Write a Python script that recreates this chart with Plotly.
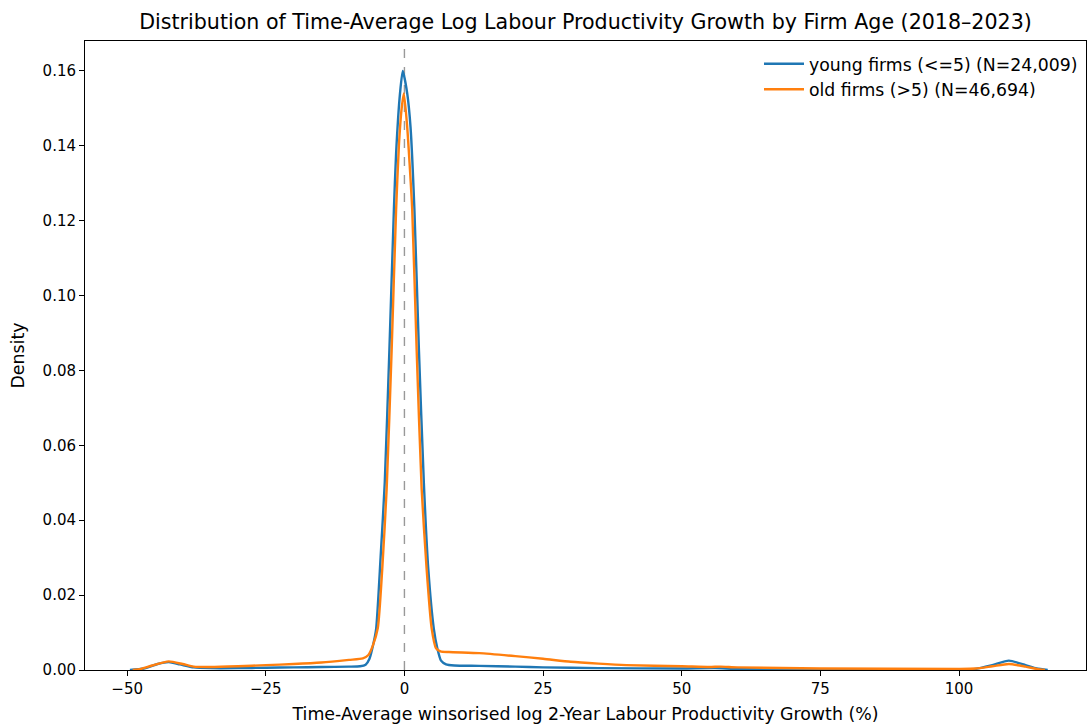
import plotly.graph_objects as go

# Kernel density estimates
young_x = [-49.5, -47, -44.5, -42.5, -40.5, -38, -35, -30, -25, -20, -15, -10, -8, -7, -6.3, -5.6,
           -5.1, -4.3, -3.55, -2.7, -1.9, -1.5, -0.8, -0.3, 0.5, 1.1, 1.8, 2.6, 3.5, 4.3, 5.3, 5.9,
           6.6, 7.5, 9, 13.5, 20, 25, 35, 50, 56, 60, 75, 100, 103, 106, 109, 112, 114, 116]
young_y = [0.0000, 0.0004, 0.0016, 0.0021, 0.0015, 0.0007, 0.0005, 0.0005, 0.0006, 0.0007, 0.0008,
           0.0009, 0.0010, 0.0014, 0.0030, 0.0070, 0.0110, 0.0300, 0.0500, 0.0860, 0.1230, 0.1380,
           0.1540, 0.1600, 0.1540, 0.1450, 0.1230, 0.0860, 0.0500, 0.0270, 0.0110, 0.0060, 0.0025,
           0.0015, 0.0012, 0.0011, 0.0009, 0.0007, 0.0005, 0.0004, 0.0005, 0.0003, 0.0002, 0.0002,
           0.0003, 0.0013, 0.0025, 0.0013, 0.0004, 0.0000]

old_x = [-49, -47.5, -45.5, -42.5, -40, -38, -35, -30, -25, -20, -15, -10, -7.5, -6.5, -5.7, -4.8,
         -4.0, -3.2, -2.3, -1.5, -1.0, -0.5, -0.1, 0.5, 0.9, 1.4, 2.2, 3.1, 4.0, 4.9, 5.7, 6.5, 8,
         13.5, 20, 25, 30, 35, 40, 50, 55, 57, 60, 75, 100, 103, 106, 109, 112, 114, 115.5]
old_y = [0.0000, 0.0003, 0.0012, 0.0023, 0.0016, 0.0009, 0.0008, 0.0010, 0.0013, 0.0016, 0.0020,
         0.0027, 0.0031, 0.0040, 0.0065, 0.0112, 0.0270, 0.0485, 0.0857, 0.1230, 0.1400, 0.1500,
         0.1540, 0.1450, 0.1360, 0.1230, 0.0857, 0.0485, 0.0270, 0.0112, 0.0058, 0.0050, 0.0048,
         0.0045, 0.0037, 0.0030, 0.0022, 0.0017, 0.0013, 0.0010, 0.0008, 0.0009, 0.0007, 0.0004,
         0.0003, 0.0004, 0.0010, 0.0016, 0.0009, 0.0003, 0.0000]

series_names = ["young firms (<=5) (N=24,009)", "old firms (>5) (N=46,694)"]
series_colors = ["#1f77b4", "#ff7f0e"]

x_ticks = [-50, -25, 0, 25, 50, 75, 100]
y_ticks = [0.00, 0.02, 0.04, 0.06, 0.08, 0.10, 0.12, 0.14, 0.16]

FONT = "DejaVu Sans"

fig = go.Figure()
for xs, ys, name, color in [(young_x, young_y, series_names[0], series_colors[0]),
                            (old_x, old_y, series_names[1], series_colors[1])]:
    fig.add_trace(go.Scatter(x=xs, y=ys, mode="lines", name=name,
                             line=dict(color=color, width=2.4, shape="spline", smoothing=0.6)))

fig.add_shape(type="line", x0=0, x1=0, y0=0, y1=1, xref="x", yref="paper",
              line=dict(color="#999999", width=1.4, dash="dash"), layer="below")

fig.update_layout(
    width=1089, height=724,
    margin=dict(l=85, r=2, t=41, b=52),
    paper_bgcolor="white", plot_bgcolor="white",
    font=dict(family=FONT, size=15, color="#000000"),
    title=dict(text="Distribution of Time-Average Log Labour Productivity Growth by Firm Age (2018–2023)",
               x=0.5, xref="paper", xanchor="center", y=1 - 22 / 724, yanchor="middle",
               font=dict(family=FONT, size=20.6, color="#000000")),
    showlegend=True,
    legend=dict(x=0.997, xanchor="right", y=0.992, yanchor="top", bgcolor="rgba(0,0,0,0)",
                borderwidth=0, font=dict(family=FONT, size=17.3), tracegroupgap=0,
                itemwidth=40),
    xaxis=dict(range=[-57.6, 122.9], tickvals=x_ticks, ticks="outside", ticklen=5, tickwidth=1,
               tickcolor="#000", showline=True, linecolor="#000", linewidth=1, mirror=True,
               showgrid=False, zeroline=False,
               title=dict(text="Time-Average winsorised log 2-Year Labour Productivity Growth (%)",
                          standoff=12, font=dict(size=17.4))),
    yaxis=dict(range=[0, 0.168], tickvals=y_ticks, tickformat=".2f", ticks="outside", ticklen=5,
               tickwidth=1, tickcolor="#000", showline=True, linecolor="#000", linewidth=1,
               mirror=True, showgrid=False, zeroline=False,
               title=dict(text="Density", standoff=13, font=dict(size=17.4))),
)

fig.write_html("out.html")
